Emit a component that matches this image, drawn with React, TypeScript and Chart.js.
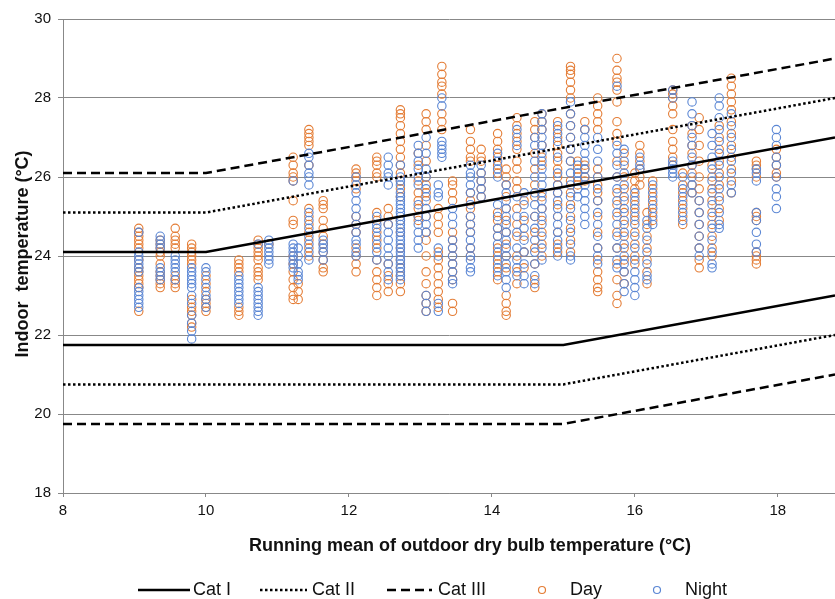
import React, { useEffect, useRef } from 'react';
import { Chart, registerables } from 'chart.js';

Chart.register(...registerables);

// x ticks and axis range
const xTicks = [8, 10, 12, 14, 16, 18];
const xMin = 8;
const xMax = 18.8;
const yMin = 18;
const yMax = 30;

// comfort category limits (running mean -> indoor temperature)
const upperX = [8, 10, 18.8];
const lowerX = [8, 15, 18.8];
const catIUpper = [24.1, 24.1, 27.0];
const catILower = [21.75, 21.75, 23.0];
const catIIUpper = [25.1, 25.1, 28.0];
const catIILower = [20.75, 20.75, 22.0];
const catIIIUpper = [26.1, 26.1, 29.0];
const catIIILower = [19.75, 19.75, 21.0];

// measured indoor temperatures, grouped by running mean value
const dayColumns: [number, number[]][] = [
  [9.06, [24.7, 24.6, 24.5, 24.4, 24.3, 24.2, 23.9, 23.7, 23.6, 23.5, 23.4, 23.3, 23.2, 22.6]],
  [9.36, [24.4, 24.3, 24.2, 24.1, 24.0, 23.8, 23.6, 23.5, 23.4, 23.3, 23.2]],
  [9.57, [24.7, 24.5, 24.4, 24.3, 24.2, 23.5, 23.4, 23.3, 23.2]],
  [9.8, [24.3, 24.2, 24.1, 24.0, 23.9, 23.8, 22.9, 22.7, 22.6, 22.5, 22.3, 22.2]],
  [10.0, [23.5, 23.3, 23.1, 22.9, 22.8, 22.7, 22.6]],
  [10.46, [23.9, 23.8, 23.7, 23.6, 22.7, 22.6, 22.5]],
  [10.73, [24.4, 24.3, 24.2, 24.1, 24.0, 23.9, 23.7, 23.6, 23.5, 23.4]],
  [10.88, [24.3]],
  [11.22, [26.5, 26.3, 26.1, 26.0, 25.9, 25.4, 24.9, 24.8, 24.0, 23.8, 23.6, 23.4, 23.2, 23.0, 22.9]],
  [11.29, [23.3, 23.1, 22.9]],
  [11.44, [27.2, 27.1, 27.0, 26.9, 26.8, 26.3, 25.2, 25.0, 24.8, 24.6, 24.4, 24.2, 24.0]],
  [11.64, [25.4, 25.3, 25.2, 24.9, 24.7, 24.5, 24.3, 24.1, 23.9, 23.7, 23.6]],
  [12.1, [26.2, 26.1, 26.0, 25.9, 25.7, 25.0, 24.8, 24.6, 24.2, 24.0, 23.8, 23.6]],
  [12.39, [26.5, 26.4, 26.3, 26.1, 26.0, 25.1, 24.9, 24.6, 24.4, 24.2, 23.9, 23.6, 23.4, 23.2, 23.0]],
  [12.55, [25.2, 25.0, 24.8, 23.8, 23.5, 23.3, 23.1]],
  [12.72, [27.7, 27.6, 27.5, 27.3, 27.1, 26.9, 26.7, 26.5, 26.3, 26.1, 25.9, 25.7, 25.5, 24.9, 24.6, 24.2, 23.9, 23.7, 23.5, 23.3, 23.1]],
  [12.97, [26.6, 26.3, 25.9, 25.6, 25.4, 25.2, 25.0, 24.9]],
  [13.08, [27.6, 27.4, 27.2, 26.8, 26.4, 26.0, 25.8, 25.6, 25.4, 25.0, 24.6, 24.4, 24.0, 23.6, 23.3, 23.0, 22.8, 22.6]],
  [13.25, [25.2, 25.0, 24.8, 24.6, 24.1, 23.9, 23.7, 23.5, 23.3, 23.1, 22.9, 22.7]],
  [13.3, [28.8, 28.6, 28.4, 28.3, 28.1, 27.6, 27.4, 27.2]],
  [13.45, [25.9, 25.8, 25.6, 25.4, 24.6, 24.4, 24.2, 24.0, 23.8, 23.6, 23.4, 22.8, 22.6]],
  [13.7, [27.2, 26.9, 26.7, 26.5, 26.4, 25.6, 25.4, 25.2, 25.0, 24.8, 24.6, 24.2, 24.0]],
  [13.85, [26.7, 26.5, 26.4, 26.1, 25.9, 25.7, 25.5]],
  [14.08, [27.1, 26.9, 26.7, 26.5, 26.3, 26.1, 25.1, 24.9, 24.7, 24.5, 24.2, 24.0, 23.8, 23.6, 23.4]],
  [14.2, [26.2, 26.0, 25.8, 25.5, 25.2, 24.9, 24.6, 24.3, 24.0, 23.7, 23.0, 22.8, 22.6, 22.5]],
  [14.35, [27.5, 27.3, 27.1, 26.9, 26.7, 26.4, 26.2, 25.9, 25.7, 25.2, 24.8, 24.5, 24.0, 23.6, 23.3]],
  [14.45, [25.4, 24.9, 24.5, 24.1, 23.7]],
  [14.6, [27.4, 27.2, 27.0, 26.6, 26.2, 25.8, 25.5, 25.0, 24.6, 24.2, 23.8, 23.4, 23.2]],
  [14.7, [27.6, 27.4, 27.2, 26.8, 26.5, 26.3, 25.5, 25.2, 24.9, 24.6, 24.3, 24.0]],
  [14.92, [27.4, 27.2, 27.0, 26.8, 26.6, 26.4, 26.2, 26.0, 25.8, 25.6, 25.3, 25.0, 24.6, 24.3, 24.1]],
  [15.1, [28.8, 28.7, 28.6, 28.4, 28.2, 28.0, 27.6, 27.3, 27.0, 26.7, 26.4, 25.9, 25.6, 25.3, 25.0, 24.7, 24.4, 24.1]],
  [15.2, [26.4, 26.2, 26.0, 25.8]],
  [15.3, [27.4, 27.2, 26.3, 26.2, 26.0, 25.9]],
  [15.48, [28.0, 27.8, 27.6, 27.4, 27.2, 26.2, 26.0, 25.8, 25.6, 25.4, 25.0, 24.6, 24.2, 23.9, 23.6, 23.4, 23.2, 23.1]],
  [15.75, [29.0, 28.7, 28.5, 28.4, 28.2, 27.9, 27.4, 27.1, 26.9, 26.4, 26.0, 25.6, 25.3, 25.0, 24.6, 24.2, 23.8, 23.4, 23.0, 22.8]],
  [15.85, [26.6, 26.3, 26.0, 25.7, 25.4, 25.1, 24.8, 24.5, 24.2, 23.9, 23.6, 23.3]],
  [16.0, [26.1, 25.9, 25.7, 25.5, 25.3, 25.1, 24.9, 24.6, 24.3, 24.0, 23.8]],
  [16.07, [26.8, 26.6, 26.4, 26.2, 26.0, 25.8]],
  [16.17, [25.1, 24.8, 24.5, 24.2, 23.9, 23.6, 23.3]],
  [16.25, [25.9, 25.7, 25.5, 25.3, 25.1, 24.9]],
  [16.53, [28.2, 28.1, 28.0, 27.8, 27.6, 27.2, 26.9, 26.7, 26.5, 26.3]],
  [16.67, [26.1, 25.8, 25.6, 25.4, 25.2, 25.0, 24.8]],
  [16.8, [27.3, 27.1, 26.8, 26.6, 26.3, 26.1, 25.8, 25.6]],
  [16.9, [27.5, 27.2, 26.8, 26.4, 26.0, 25.7, 25.4, 25.1, 24.8, 24.5, 24.2, 23.9, 23.7]],
  [17.08, [26.3, 26.0, 25.7, 25.4, 25.1, 24.8, 24.5, 24.2, 24.0]],
  [17.18, [27.3, 27.0, 26.7, 26.4, 26.1, 25.8, 25.5, 25.2, 24.9]],
  [17.35, [28.5, 28.3, 28.1, 27.9, 27.7, 27.4, 27.1, 26.8, 26.5, 26.2, 25.9, 25.6]],
  [17.7, [26.4, 26.3, 26.2, 26.0, 25.1, 25.0, 24.9, 24.1, 24.0, 23.9, 23.8]],
  [17.98, [26.7, 26.5, 26.3, 26.1, 26.0]],
];

const nightColumns: [number, number[]][] = [
  [9.06, [24.6, 24.1, 24.0, 23.9, 23.8, 23.7, 23.6, 23.2, 23.1, 23.0, 22.9, 22.8, 22.7]],
  [9.36, [24.5, 24.4, 24.3, 24.2, 23.7, 23.6, 23.5, 23.4]],
  [9.57, [24.0, 23.9, 23.8, 23.7, 23.6, 23.4]],
  [9.8, [23.7, 23.6, 23.5, 23.4, 23.3, 23.2, 23.0, 22.8, 22.5, 22.3, 22.1, 21.9]],
  [10.0, [23.7, 23.6, 23.4, 23.2, 23.0, 22.9, 22.7]],
  [10.46, [23.5, 23.4, 23.3, 23.2, 23.1, 23.0, 22.9, 22.8]],
  [10.73, [24.3, 23.2, 23.1, 23.0, 22.9, 22.8, 22.7, 22.6, 22.5]],
  [10.88, [24.4, 24.3, 24.2, 24.1, 24.0, 23.9, 23.8]],
  [11.22, [25.9, 24.3, 24.2, 24.1, 24.0, 23.9, 23.8, 23.7]],
  [11.29, [24.2, 24.0, 23.8, 23.6, 23.5, 23.4]],
  [11.44, [26.6, 26.5, 26.3, 26.1, 26.0, 25.8, 25.1, 24.9, 24.7, 24.5, 24.3, 24.1, 23.9]],
  [11.64, [24.4, 24.3, 24.2, 24.1, 23.9]],
  [12.1, [26.0, 25.8, 25.6, 25.4, 25.2, 25.0, 24.8, 24.6, 24.4, 24.3, 24.1, 24.0]],
  [12.39, [25.0, 24.8, 24.7, 24.5, 24.3, 24.1, 23.9]],
  [12.55, [26.5, 26.3, 26.1, 26.0, 25.8, 24.8, 24.6, 24.4, 24.2, 24.0, 23.8, 23.6, 23.4]],
  [12.72, [26.3, 26.0, 25.9, 25.8, 25.6, 25.5, 25.4, 25.3, 25.2, 25.1, 25.0, 24.9, 24.8, 24.7, 24.6, 24.5, 24.4, 24.3, 24.2, 24.1, 24.0, 23.9, 23.8, 23.7, 23.6, 23.5, 23.4]],
  [12.97, [26.8, 26.6, 26.4, 26.2, 26.0, 25.8, 25.3, 25.0, 24.8, 24.6, 24.4, 24.2]],
  [13.08, [27.0, 26.6, 26.2, 26.0, 25.7, 25.5, 25.2, 25.0, 24.8, 24.6, 23.0, 22.8, 22.6]],
  [13.25, [25.8, 25.6, 25.5, 24.2, 24.0, 22.8, 22.6]],
  [13.3, [28.0, 27.8, 26.9, 26.8, 26.7, 26.6, 26.5]],
  [13.45, [25.2, 25.0, 24.8, 24.4, 24.2, 24.0, 23.8, 23.6, 23.4, 23.3]],
  [13.7, [26.3, 26.1, 26.0, 25.8, 25.6, 25.3, 25.0, 24.8, 24.6, 24.4, 24.2, 24.0, 23.9, 23.7, 23.6]],
  [13.85, [26.3, 26.1, 25.9, 25.7, 25.5]],
  [14.08, [26.6, 26.4, 26.2, 26.0, 25.3, 25.0, 24.7, 24.5, 24.3, 24.1, 23.9, 23.7, 23.5]],
  [14.2, [25.8, 25.6, 25.4, 25.2, 25.0, 24.8, 24.6, 24.4, 24.2, 24.0, 23.8, 23.6, 23.4, 23.2]],
  [14.35, [27.2, 27.0, 26.8, 25.5, 25.0, 24.6, 24.2, 23.9, 23.7, 23.5]],
  [14.45, [25.6, 25.3, 25.0, 24.7, 24.4, 24.1, 23.8, 23.5, 23.3]],
  [14.6, [27.0, 26.8, 26.4, 26.0, 25.6, 25.3, 25.0, 24.7, 24.4, 24.1, 23.8, 23.5, 23.3]],
  [14.7, [27.6, 27.4, 27.2, 27.0, 26.8, 26.6, 26.4, 26.2, 26.0, 25.8, 25.6, 25.4, 25.2, 25.0, 24.8, 24.5, 24.2, 23.9]],
  [14.92, [27.3, 27.1, 26.9, 26.5, 26.1, 25.8, 25.6, 25.4, 25.2, 25.0, 24.8, 24.6, 24.4, 24.2, 24.0]],
  [15.1, [27.9, 27.6, 27.3, 27.0, 26.7, 26.4, 26.1, 25.8, 25.5, 25.2, 24.9, 24.6, 24.3, 24.0, 23.9]],
  [15.2, [26.3, 26.1, 25.9, 25.7, 25.5]],
  [15.3, [27.2, 27.0, 26.8, 26.6, 26.4, 26.2, 26.0, 25.8, 25.6, 25.4, 25.2, 25.0, 24.8]],
  [15.48, [27.0, 26.7, 26.4, 26.0, 25.7, 25.4, 25.1, 24.8, 24.5, 24.2, 24.0, 23.8]],
  [15.75, [28.3, 26.8, 26.6, 26.3, 26.0, 25.7, 25.4, 25.1, 24.8, 24.5, 24.2, 23.9, 23.7]],
  [15.85, [26.7, 26.4, 26.1, 25.8, 25.5, 25.2, 24.9, 24.6, 24.3, 24.0, 23.8, 23.6, 23.3, 23.1]],
  [16.0, [25.6, 25.4, 25.2, 25.0, 24.8, 24.5, 24.2, 23.9, 23.6, 23.4, 23.2, 23.0]],
  [16.07, [26.5, 26.3, 26.2]],
  [16.17, [24.9, 24.7, 24.4, 24.1, 23.8, 23.5, 23.4]],
  [16.25, [25.8, 25.6, 25.4, 25.2, 25.0, 24.8]],
  [16.53, [28.2, 28.0, 26.4, 26.3, 26.2, 26.1, 26.0]],
  [16.67, [26.0, 25.7, 25.5, 25.3, 25.1, 24.9]],
  [16.8, [27.9, 27.6, 27.3, 27.0, 26.8, 26.5, 26.3, 26.0, 25.8, 25.6]],
  [16.9, [25.4, 25.1, 24.8, 24.5, 24.2, 24.0]],
  [17.08, [27.1, 26.8, 26.5, 26.2, 25.9, 25.6, 25.3, 25.0, 24.7, 24.4, 24.1, 23.8, 23.7]],
  [17.18, [28.0, 27.8, 27.5, 27.2, 26.9, 26.6, 26.3, 26.0, 25.7, 25.4, 25.1, 24.8, 24.7]],
  [17.35, [27.6, 27.3, 27.0, 26.7, 26.4, 26.1, 25.8, 25.6]],
  [17.7, [26.2, 26.1, 25.9, 25.1, 24.9, 24.6, 24.3, 24.1]],
  [17.98, [27.2, 27.0, 26.8, 26.5, 26.3, 26.0, 25.7, 25.5, 25.2]],
];

const xTitle = 'Running mean of outdoor dry bulb temperature (°C)';
const yTitle = 'Indoor  temperature (°C)';

const DAY = '#E47D36';
const NIGHT = '#5A86D4';
const FONT = '"Liberation Sans", Arial, sans-serif';

const toPoints = (xs: number[], ys: number[]) => xs.map((x, i) => ({ x, y: ys[i] }));
const flatten = (cols: [number, number[]][]) =>
  cols.flatMap(([x, ys]) => ys.map((y) => ({ x, y })));

const lineSet = (label: string, data: any[], dash: number[]) => ({
  type: 'line' as const,
  label,
  data,
  borderColor: '#000',
  borderWidth: 2.5,
  borderDash: dash,
  pointRadius: 0,
  fill: false,
  tension: 0,
});

const legendItems = [
  { label: 'Cat I', kind: 'line', dash: [], x0: 138, x1: 190, tx: 193 },
  { label: 'Cat II', kind: 'line', dash: [2.5, 2.5], x0: 260, x1: 307, tx: 312 },
  { label: 'Cat III', kind: 'line', dash: [9, 5], x0: 387, x1: 432, tx: 438 },
  { label: 'Day', kind: 'dot', color: DAY, x0: 542, tx: 570 },
  { label: 'Night', kind: 'dot', color: NIGHT, x0: 657, tx: 685 },
];

const overlay = {
  id: 'overlay',
  afterDraw(chart: any) {
    const ctx = chart.ctx;
    ctx.save();
    ctx.fillStyle = '#111';
    ctx.textBaseline = 'middle';
    ctx.textAlign = 'center';
    ctx.font = `bold 18px ${FONT}`;
    ctx.fillText(xTitle, 470, 546);
    ctx.save();
    ctx.translate(23, 254);
    ctx.rotate(-Math.PI / 2);
    ctx.fillText(yTitle, 0, 0);
    ctx.restore();

    // legend
    const ly = 590;
    ctx.font = `18px ${FONT}`;
    ctx.textAlign = 'left';
    legendItems.forEach((it: any) => {
      if (it.kind === 'line') {
        ctx.beginPath();
        ctx.strokeStyle = '#000';
        ctx.lineWidth = 2.5;
        ctx.setLineDash(it.dash);
        ctx.moveTo(it.x0, ly);
        ctx.lineTo(it.x1, ly);
        ctx.stroke();
        ctx.setLineDash([]);
      } else {
        ctx.beginPath();
        ctx.strokeStyle = it.color;
        ctx.lineWidth = 1.2;
        ctx.arc(it.x0, ly, 3.5, 0, Math.PI * 2);
        ctx.stroke();
      }
      ctx.fillStyle = '#111';
      ctx.fillText(it.label, it.tx, ly);
    });
    ctx.restore();
  },
};

const App: React.FC = () => {
  const canvasRef = useRef<HTMLCanvasElement>(null);
  const chartRef = useRef<Chart | null>(null);

  useEffect(() => {
    if (!canvasRef.current) return;
    const ctx = canvasRef.current.getContext('2d');
    if (!ctx) return;
    if (chartRef.current) chartRef.current.destroy();

    const scatterStyle = (color: string) => ({
      type: 'scatter' as const,
      pointStyle: 'circle',
      pointRadius: 4.2,
      pointBorderWidth: 1.1,
      borderColor: color,
      backgroundColor: 'rgba(0,0,0,0)',
    });

    chartRef.current = new Chart(ctx, {
      type: 'scatter',
      data: {
        datasets: [
          lineSet('Cat I', toPoints(upperX, catIUpper), []),
          lineSet('Cat I lower', toPoints(lowerX, catILower), []),
          lineSet('Cat II', toPoints(upperX, catIIUpper), [2.5, 2.5]),
          lineSet('Cat II lower', toPoints(lowerX, catIILower), [2.5, 2.5]),
          lineSet('Cat III', toPoints(upperX, catIIIUpper), [9, 5]),
          lineSet('Cat III lower', toPoints(lowerX, catIIILower), [9, 5]),
          { label: 'Night', data: flatten(nightColumns), ...scatterStyle(NIGHT) },
          { label: 'Day', data: flatten(dayColumns), ...scatterStyle(DAY) },
        ] as any,
      },
      options: {
        responsive: true,
        maintainAspectRatio: false,
        animation: false,
        layout: { autoPadding: false, padding: { top: 19, right: 0, left: 0, bottom: 0 } },
        plugins: {
          legend: { display: false },
          tooltip: { enabled: false },
        },
        scales: {
          x: {
            type: 'linear',
            min: xMin,
            max: xMax,
            afterBuildTicks: (scale: any) => {
              scale.ticks = xTicks.map((v) => ({ value: v }));
            },
            afterFit: (scale: any) => {
              scale.height = 106;
              scale.paddingRight = 0;
              scale.paddingLeft = 0;
            },
            grid: {
              drawOnChartArea: false,
              color: '#888',
              tickLength: 4,
            },
            border: { color: '#888', width: 1 },
            ticks: {
              color: '#111',
              padding: 5,
              maxRotation: 0,
              font: { family: FONT, size: 15 },
            },
          },
          y: {
            type: 'linear',
            min: yMin,
            max: yMax,
            afterFit: (scale: any) => {
              scale.width = 63;
            },
            grid: {
              color: '#888',
              lineWidth: 1,
              tickLength: 5,
            },
            border: { color: '#888', width: 1 },
            ticks: {
              stepSize: 2,
              color: '#111',
              padding: 7,
              font: { family: FONT, size: 15 },
            },
          },
        },
      },
      plugins: [overlay],
    });

    return () => {
      if (chartRef.current) {
        chartRef.current.destroy();
        chartRef.current = null;
      }
    };
  }, []);

  return (
    <div style={{ position: 'fixed', left: 0, top: 0, width: 835, height: 599, background: '#fff' }}>
      <canvas ref={canvasRef}></canvas>
    </div>
  );
};

export default App;
